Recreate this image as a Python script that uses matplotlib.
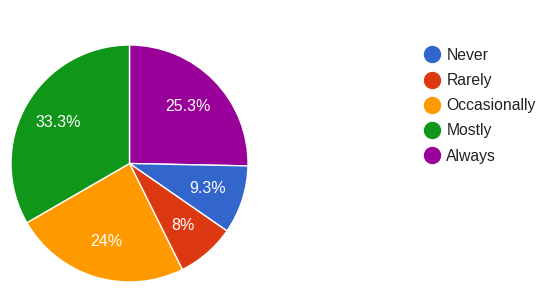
import numpy as np
import matplotlib.pyplot as plt
from matplotlib.lines import Line2D

categories = ["Never", "Rarely", "Occasionally", "Mostly", "Always"]
shares = [9.3, 8.0, 24.0, 33.3, 25.3]
labels = ["9.3%", "8%", "24%", "33.3%", "25.3%"]
colors = ["#3366CC", "#DC3912", "#FF9900", "#109618", "#990099"]

# pie starts at 12 o'clock with the last category, then goes clockwise
order = [4, 0, 1, 2, 3]

plt.rcParams["font.family"] = ["Liberation Sans", "DejaVu Sans"]

fig = plt.figure(figsize=(5.4, 2.91), dpi=100)
ax = fig.add_axes([11 / 540, 9 / 291, 237 / 540, 237 / 291])
wedges, texts = ax.pie([shares[i] for i in order],
                       colors=[colors[i] for i in order],
                       startangle=90, counterclock=False,
                       wedgeprops=dict(edgecolor="white", linewidth=1))
for w, i in zip(wedges, order):
    ang = np.deg2rad((w.theta1 + w.theta2) / 2)
    ax.text(0.69 * np.cos(ang), 0.69 * np.sin(ang), labels[i],
            color="white", fontsize=11.5, ha="center", va="center")
ax.set_xlim(-1, 1)
ax.set_ylim(-1, 1)
ax.set_aspect("equal")

handles = [Line2D([], [], marker="o", ls="", markersize=11.5,
                  markerfacecolor=c, markeredgecolor=c) for c in colors]
fig.legend(handles, categories, loc="upper left",
           bbox_to_anchor=(415 / 540, 1 - 40 / 291), frameon=False,
           fontsize=11.3, labelcolor="#222222", handletextpad=0.3,
           labelspacing=0.65, handlelength=1.2, borderpad=0)

fig.savefig("out.png", dpi=100)
